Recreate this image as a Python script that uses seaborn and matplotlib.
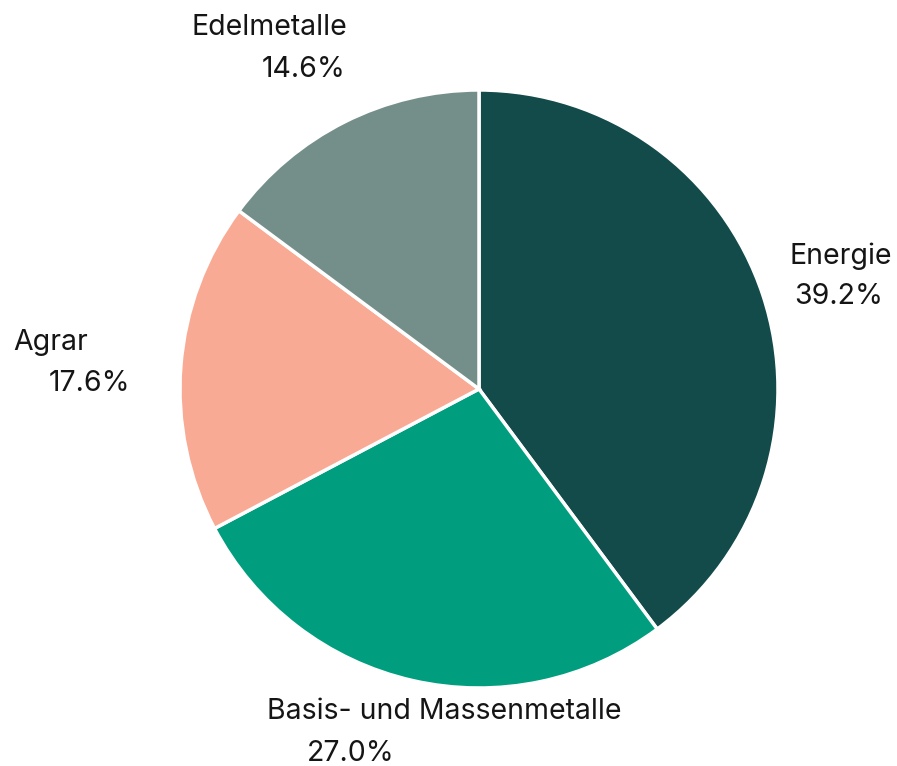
import matplotlib
matplotlib.use("Agg")
import matplotlib.pyplot as plt
import seaborn as sns

# Portfolio weights by commodity sector (percent)
sectors = ["Energie", "Basis- und Massenmetalle", "Agrar", "Edelmetalle"]
weights = [39.2, 27.0, 17.6, 14.6]
colors = ["#134a4a", "#009e7e", "#f9aa94", "#748f89"]

# Label anchors (pie units, radius = 1): name line and percentage line
name_pos = [(1.037, 0.445), (-0.708, -1.08), (-1.557, 0.155), (-0.96, 1.21)]
pct_pos = [(1.054, 0.31), (-0.577, -1.218), (-1.44, 0.02), (-0.728, 1.07)]

sns.set_theme(style="white")
plt.rcParams["font.family"] = ["Inter", "DejaVu Sans"]

fig = plt.figure(figsize=(8.97, 7.66), dpi=100)
ax = fig.add_axes([0, 0, 1, 1])

ax.pie(
    weights,
    colors=sns.color_palette(colors),
    startangle=90,
    counterclock=False,
    radius=1.0,
    wedgeprops=dict(edgecolor="white", linewidth=2.5),
)

for name, w, (nx, ny), (px, py) in zip(sectors, weights, name_pos, pct_pos):
    ax.text(nx, ny, name, ha="left", va="center", fontsize=20.5,
            fontweight="normal", color="#151515")
    ax.text(px, py, f"{w:.1f}%", ha="left", va="center", fontsize=20.5,
            fontweight="normal", color="#151515")

R = 299.0
ax.set_xlim(-479 / R, (897 - 479) / R)
ax.set_ylim(-(766 - 389) / R, 389 / R)
ax.set_aspect("equal")
ax.axis("off")

fig.savefig("out.png", dpi=100, facecolor="white")
